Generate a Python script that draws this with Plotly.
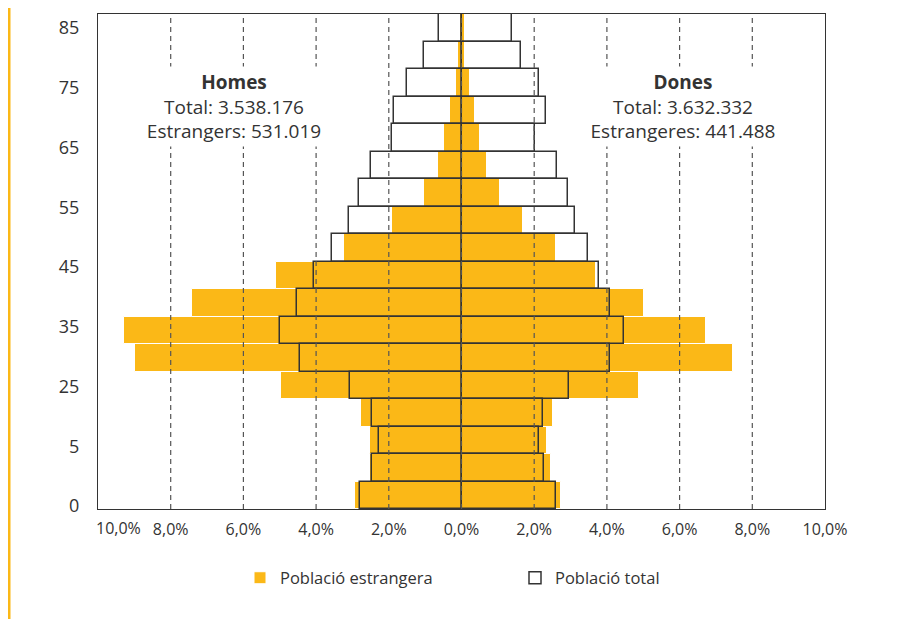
import plotly.graph_objects as go
import numpy as np

# ---------------- data (bottom -> top age groups) ----------------
age_groups = ["0-4", "5-9", "10-14", "15-19", "20-24", "25-29", "30-34", "35-39", "40-44",
              "45-49", "50-54", "55-59", "60-64", "65-69", "70-74", "75-79", "80-84", "85+"]
men_foreign = [2.94, 2.52, 2.53, 2.77, 4.97, 8.98, 9.29, 7.42, 5.11,
               3.24, 1.92, 1.04, 0.66, 0.49, 0.33, 0.16, 0.11, 0.03]
women_foreign = [2.75, 2.47, 2.36, 2.53, 4.89, 7.47, 6.73, 5.03, 3.70,
                 2.61, 1.70, 1.07, 0.71, 0.52, 0.36, 0.22, 0.10, 0.10]
men_total = [2.80, 2.45, 2.28, 2.45, 3.06, 4.43, 4.98, 4.52, 4.07,
             3.55, 3.10, 2.83, 2.49, 1.90, 1.87, 1.49, 1.02, 0.61]
women_total = [2.59, 2.27, 2.13, 2.24, 2.95, 4.09, 4.46, 4.08, 3.79,
               3.47, 3.13, 2.92, 2.62, 2.03, 2.33, 2.12, 1.63, 1.39]
y_tick_labels = ["0", "5", "25", "35", "45", "55", "65", "75", "85"]
x_tick_values = [-8, -6, -4, -2, 0, 2, 4, 6, 8, 10]
x_tick_labels = ["8,0%", "6,0%", "4,0%", "2,0%", "0,0%", "2,0%", "4,0%", "6,0%", "8,0%", "10,0%"]
homes_text = "<b>Homes</b><br>Total: 3.538.176<br>Estrangers: 531.019"
dones_text = "<b>Dones</b><br>Total: 3.632.332<br>Estrangeres: 441.488"

# ---------------- style ----------------
YELLOW = "#FBB817"
DARK = "#333333"
FONT = "Open Sans"
W, H = 889, 611          # page body adds an 8px offset inside the 897x619 window
L, R, T, B = 90, 72, 6, 110
PW, PH = W - L - R, H - T - B

pos = list(range(len(age_groups)))

fig = go.Figure()
fig.add_trace(go.Bar(y=pos, x=[-v for v in men_foreign], orientation="h",
                     marker=dict(color=YELLOW, line=dict(color="white", width=1)),
                     width=1, name="Població estrangera", legendgroup="f"))
fig.add_trace(go.Bar(y=pos, x=women_foreign, orientation="h",
                     marker=dict(color=YELLOW, line=dict(color="white", width=1)),
                     width=1, name="Població estrangera", legendgroup="f", showlegend=False))
fig.add_trace(go.Bar(y=pos, x=[-v for v in men_total], orientation="h",
                     marker=dict(color="rgba(0,0,0,0)", line=dict(color=DARK, width=1.5)),
                     width=1, name="Població total", legendgroup="t"))
fig.add_trace(go.Bar(y=pos, x=women_total, orientation="h",
                     marker=dict(color="rgba(0,0,0,0)", line=dict(color=DARK, width=1.5)),
                     width=1, name="Població total", legendgroup="t", showlegend=False))

# y tick positions: evenly spaced labels, independent of bars
y_lo, y_hi = -0.5, len(age_groups) - 0.5
tick_pos = list(np.linspace(y_lo + 0.11, y_hi - 0.51, len(y_tick_labels)))

shapes = []
for gx in [-8, -6, -4, -2, 0, 2, 4, 6, 8]:
    shapes.append(dict(type="line", xref="x", yref="paper", x0=gx, x1=gx, y0=0, y1=1,
                       line=dict(color="#555555", width=1.2, dash="5px,4px"), layer="above"))
# left decorative yellow rule
lx = (1 - L) / PW
shapes.append(dict(type="line", xref="paper", yref="paper", x0=lx, x1=lx,
                   y0=-B / PH, y1=(PH + T) / PH, line=dict(color=YELLOW, width=3)))

annots = []
for cx, txt, bw in [(-6.26, homes_text, 192), (6.1, dones_text, 198)]:
    annots.append(dict(x=cx, y=(509 - 106.5) / PH, xref="x", yref="paper", text=txt,
                       showarrow=False, width=bw, borderpad=2,
                       bgcolor="white", align="center", yanchor="middle",
                       font=dict(family=FONT, size=19, color=DARK)))
annots.append(dict(x=-10, y=-19 / PH, xref="x", yref="paper", text="10,0%", showarrow=False,
                   xanchor="left", yanchor="middle", xshift=-4,
                   font=dict(family=FONT, size=16, color=DARK)))

fig.update_layout(
    width=W, height=H,
    margin=dict(l=L, r=R, t=T, b=B),
    paper_bgcolor="white", plot_bgcolor="white",
    barmode="overlay", bargap=0,
    font=dict(family=FONT, color=DARK),
    shapes=shapes, annotations=annots,
    showlegend=True,
    legend=dict(orientation="h", x=(232 - L) / PW, xanchor="left",
                y=-69 / PH, yanchor="middle",
                font=dict(family=FONT, size=16.5, color=DARK),
                entrywidth=230, entrywidthmode="pixels",
                traceorder="normal"),
)
fig.update_xaxes(range=[-10, 10], tickvals=x_tick_values, ticktext=x_tick_labels,
                 showgrid=False, zeroline=False, showline=True, linecolor=DARK,
                 linewidth=1, mirror=True, ticks="", ticklabelstandoff=6,
                 tickfont=dict(family=FONT, size=16, color=DARK))
fig.update_yaxes(range=[y_lo, y_hi], tickvals=tick_pos, ticktext=y_tick_labels,
                 showgrid=False, zeroline=False, showline=True, linecolor=DARK,
                 linewidth=1, mirror=True, ticks="", ticklabelstandoff=14,
                 tickfont=dict(family=FONT, size=18, color=DARK))

fig.write_html("out.html")
